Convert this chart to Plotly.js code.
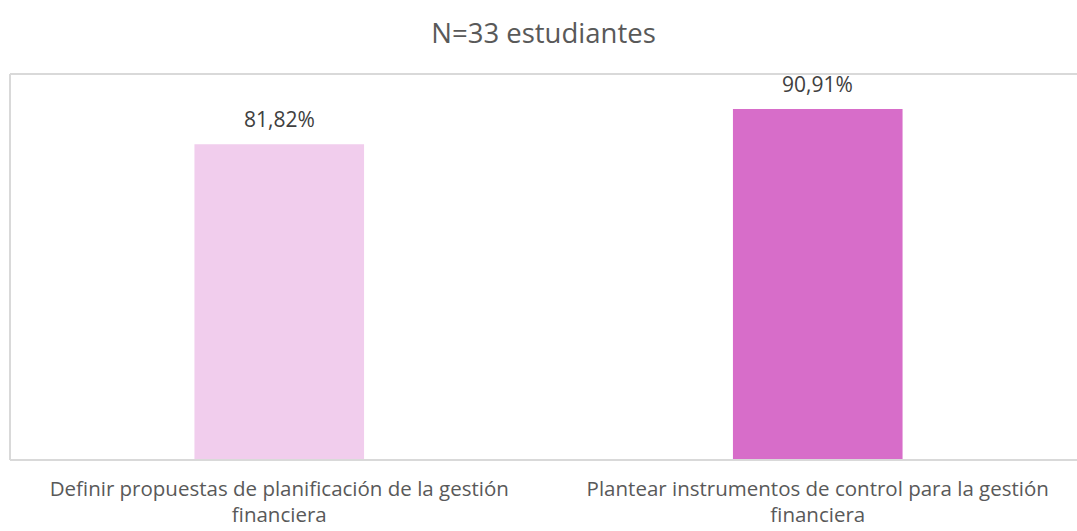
<!DOCTYPE html>
<html>
<head>
<meta charset="utf-8">
<script src="https://cdn.plot.ly/plotly-3.0.1.min.js"></script>
<style>html,body{margin:0;padding:0;background:#fff;overflow:hidden;}#chart{width:1087px;height:531px;}</style>
</head>
<body>
<div id="chart"></div>
<script>
const categories = [
  "Definir propuestas de planificación de la gestión<br>financiera",
  "Plantear instrumentos de control para la gestión<br>financiera"
];
const values = [81.82, 90.91];
const barColors = ["#F1CDED", "#D76DC9"];
const chartTitle = "N=33 estudiantes";

const fontFam = "'Open Sans', 'Noto Sans', sans-serif";

const trace = {
  type: "bar",
  x: categories,
  y: values,
  marker: {color: barColors},
  width: 0.315,
  hoverinfo: "none"
};

const annotations = categories.map((c, i) => ({
  x: c, y: values[i], xref: "x", yref: "y",
  text: values[i].toFixed(2).replace(".", ",") + "%",
  showarrow: false, xanchor: "center", yanchor: "bottom", yshift: 9,
  font: {family: fontFam, size: 21, color: "#404040"}
}));

const lineStyle = {color: "#D9D9D9", width: 2};
const shapes = [
  {type: "line", xref: "paper", yref: "paper", x0: 0, x1: 0, y0: 0, y1: 1, line: lineStyle},
  {type: "line", xref: "paper", yref: "paper", x0: 0, x1: 1, y0: 1, y1: 1, line: lineStyle},
  {type: "line", xref: "paper", yref: "paper", x0: 0, x1: 1, y0: 0, y1: 0, line: lineStyle}
];

const layout = {
  width: 1087,
  height: 531,
  margin: {l: 10, r: 0, t: 74, b: 71},
  paper_bgcolor: "#fff",
  plot_bgcolor: "#fff",
  showlegend: false,
  title: {
    text: chartTitle,
    x: 0.5, xanchor: "center", xref: "container",
    y: 1 - 33/531, yanchor: "middle", yref: "container",
    font: {family: fontFam, size: 27.5, color: "#595959"}
  },
  annotations: annotations,
  shapes: shapes,
  xaxis: {
    type: "category",
    range: [-0.5, 1.5],
    showline: false,
    ticks: "", showgrid: false, zeroline: false,
    ticklabelstandoff: 14,
    tickfont: {family: fontFam, size: 20.5, color: "#595959"},
    fixedrange: true
  },
  yaxis: {
    range: [0, 100],
    showline: false,
    showticklabels: false, ticks: "", showgrid: false, zeroline: false,
    fixedrange: true
  }
};

Plotly.newPlot("chart", [trace], layout, {displayModeBar: false, staticPlot: true});
</script>
</body>
</html>
